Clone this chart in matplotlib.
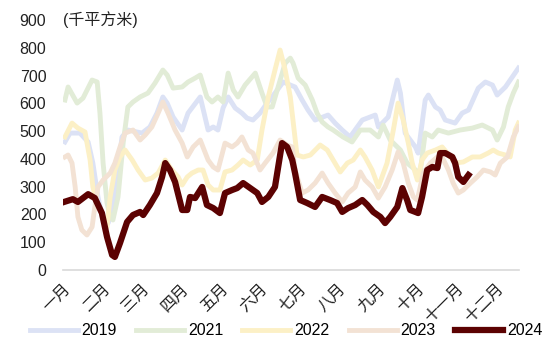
import matplotlib
matplotlib.use("Agg")
import matplotlib.pyplot as plt

plt.rcParams['font.family'] = ['Liberation Sans', 'Noto Sans CJK SC']

months = ['一月', '二月', '三月', '四月', '五月', '六月',
          '七月', '八月', '九月', '十月', '十一月', '十二月']

# x in months since Jan 1
x2019 = [0.05, 0.18, 0.43, 0.64, 0.76, 0.89, 1.02, 1.15, 1.27, 1.40,
         1.50, 1.65, 1.88, 2.01, 2.21, 2.39, 2.54, 2.65, 2.80, 3.03,
         3.18, 3.49, 3.69, 3.82, 3.94, 4.07, 4.20, 4.38, 4.55, 4.68,
         4.83, 5.01, 5.19, 5.39, 5.60, 5.78, 5.90, 6.08, 6.23, 6.41,
         6.74, 6.92, 7.10, 7.30, 7.61, 7.94, 8.02, 8.27, 8.50, 8.58,
         8.70, 8.96, 9.03, 9.21, 9.29, 9.47, 9.59, 9.72, 9.97, 10.15,
         10.31, 10.56, 10.74, 10.92, 11.04, 11.25, 11.58]
v2019 = [461, 493, 493, 461, 385, 263, 180, 169, 227, 360,
         479, 504, 497, 493, 515, 565, 623, 601, 551, 504,
         565, 623, 504, 515, 504, 583, 623, 583, 565, 547,
         540, 565, 601, 637, 677, 666, 659, 612, 576, 540,
         558, 529, 504, 479, 540, 558, 515, 551, 684, 637,
         493, 443, 421, 612, 630, 587, 576, 540, 529, 565,
         576, 655, 677, 666, 630, 659, 727]

x2021 = [0.05, 0.13, 0.36, 0.51, 0.74, 0.87, 0.94, 1.02, 1.12, 1.20,
         1.27, 1.40, 1.53, 1.65, 1.78, 1.96, 2.16, 2.34, 2.54, 2.65,
         2.80, 3.03, 3.18, 3.36, 3.49, 3.66, 3.79, 3.94, 4.07, 4.20,
         4.33, 4.45, 4.63, 4.89, 5.06, 5.19, 5.32, 5.47, 5.65, 5.78,
         5.85, 5.98, 6.16, 6.34, 6.46, 6.59, 6.74, 6.87, 7.12, 7.35,
         7.56, 7.81, 8.02, 8.14, 8.32, 8.58, 8.75, 8.88, 9.01, 9.08,
         9.21, 9.39, 9.54, 9.80, 10.10, 10.41, 10.66, 10.92, 11.04, 11.20,
         11.32, 11.45, 11.58]
v2021 = [612, 659, 601, 619, 684, 677, 565, 385, 241, 191,
         180, 263, 457, 587, 605, 623, 637, 673, 720, 702,
         655, 659, 677, 691, 702, 623, 605, 623, 605, 709,
         648, 623, 666, 709, 637, 587, 587, 659, 745, 763,
         745, 691, 666, 612, 565, 533, 515, 504, 479, 461,
         504, 504, 479, 522, 468, 432, 385, 370, 355, 349,
         493, 479, 504, 493, 504, 511, 522, 504, 468, 515,
         587, 637, 677]

x2022 = [0.05, 0.23, 0.38, 0.56, 0.69, 0.76, 0.87, 1.02, 1.12, 1.20,
         1.32, 1.45, 1.58, 1.76, 1.91, 2.09, 2.26, 2.42, 2.60, 2.77,
         2.93, 3.03, 3.16, 3.28, 3.44, 3.56, 3.69, 3.82, 3.99, 4.12,
         4.30, 4.45, 4.58, 4.76, 4.94, 5.06, 5.22, 5.39, 5.52, 5.65,
         5.78, 5.95, 6.11, 6.29, 6.54, 6.72, 6.87, 7.05, 7.23, 7.38,
         7.56, 7.68, 7.86, 8.02, 8.24, 8.40, 8.52, 8.65, 8.78, 8.88,
         9.01, 9.13, 9.26, 9.47, 9.64, 9.77, 9.97, 10.18, 10.41, 10.61,
         10.81, 10.94, 11.07, 11.25, 11.37, 11.50, 11.58]
v2022 = [479, 529, 511, 497, 396, 299, 241, 191, 155, 263,
         360, 407, 432, 396, 360, 324, 331, 349, 396, 360,
         335, 306, 335, 349, 360, 360, 306, 288, 288, 353,
         360, 378, 396, 378, 396, 504, 623, 720, 792, 720,
         623, 414, 407, 414, 450, 432, 396, 353, 385, 396,
         432, 407, 360, 299, 385, 504, 601, 540, 457, 385,
         324, 396, 421, 432, 443, 421, 385, 389, 407, 407,
         421, 432, 421, 414, 407, 504, 529]

x2023 = [0.05, 0.13, 0.23, 0.31, 0.38, 0.48, 0.61, 0.74, 0.81, 0.89,
         1.02, 1.20, 1.32, 1.45, 1.58, 1.78, 1.96, 2.09, 2.26, 2.42,
         2.54, 2.67, 2.85, 3.03, 3.16, 3.31, 3.49, 3.69, 3.82, 3.94,
         4.12, 4.30, 4.43, 4.55, 4.71, 4.83, 5.01, 5.14, 5.34, 5.52,
         5.70, 5.83, 5.90, 6.08, 6.23, 6.41, 6.59, 6.74, 6.92, 7.10,
         7.25, 7.43, 7.56, 7.68, 7.86, 8.02, 8.19, 8.37, 8.52, 8.65,
         8.78, 8.91, 9.01, 9.16, 9.34, 9.52, 9.64, 9.80, 9.92, 10.05,
         10.18, 10.36, 10.53, 10.69, 10.87, 10.99, 11.12, 11.30, 11.45, 11.58]
v2023 = [407, 414, 385, 299, 191, 144, 126, 155, 227, 299,
         324, 349, 385, 443, 493, 504, 468, 486, 515, 565,
         605, 565, 504, 457, 407, 443, 468, 396, 371, 360,
         457, 443, 457, 479, 432, 421, 360, 385, 421, 468,
         450, 443, 360, 277, 288, 313, 349, 313, 277, 245,
         277, 299, 353, 324, 299, 259, 299, 360, 425, 385,
         313, 263, 252, 349, 385, 407, 407, 360, 313, 277,
         288, 313, 335, 360, 353, 342, 385, 407, 479, 515]

x2024 = [0.05, 0.25, 0.38, 0.64, 0.81, 0.99, 1.12, 1.25, 1.32, 1.45,
         1.63, 1.78, 1.96, 2.04, 2.21, 2.39, 2.52, 2.60, 2.72, 2.85,
         3.03, 3.16, 3.23, 3.36, 3.54, 3.66, 3.82, 3.99, 4.12, 4.30,
         4.43, 4.58, 4.76, 4.94, 5.06, 5.22, 5.39, 5.57, 5.70, 5.83,
         5.90, 6.03, 6.21, 6.41, 6.59, 6.79, 6.97, 7.10, 7.25, 7.43,
         7.61, 7.74, 7.89, 8.07, 8.19, 8.32, 8.50, 8.63, 8.75, 8.83,
         8.96, 9.03, 9.13, 9.26, 9.39, 9.52, 9.59, 9.72, 9.90, 9.97,
         10.05, 10.18, 10.31]
v2024 = [246, 255, 245, 273, 259, 205, 119, 54, 47, 97,
         173, 198, 209, 198, 234, 277, 335, 385, 360, 317,
         216, 216, 263, 259, 299, 234, 223, 205, 277, 288,
         295, 313, 295, 277, 245, 263, 299, 457, 443, 396,
         349, 252, 241, 227, 263, 252, 241, 209, 223, 234,
         252, 234, 209, 191, 169, 191, 227, 295, 252, 216,
         209, 205, 263, 360, 371, 367, 421, 421, 407, 385,
         335, 317, 342]

fig = plt.figure(figsize=(5.5, 3.52), dpi=100)
ax = fig.add_axes([0.1145, 0.233, 0.8295, 0.71])

ax.plot(x2019, v2019, color='#dce2f5', lw=3.5, label='2019', solid_joinstyle='round')
ax.plot(x2021, v2021, color='#e2ecd7', lw=3.5, label='2021', solid_joinstyle='round')
ax.plot(x2022, v2022, color='#fcf0c6', lw=3.5, label='2022', solid_joinstyle='round')
ax.plot(x2023, v2023, color='#f3e2d4', lw=3.5, label='2023', solid_joinstyle='round')
ax.plot(x2024, v2024, color='#5c0202', lw=4.5, label='2024', solid_joinstyle='round')

ax.set_xlim(0, 11.6)
ax.set_ylim(0, 900)
ax.set_yticks(range(0, 901, 100))
ax.set_xticks(range(12))
ax.set_xticklabels(months, rotation=45, ha='right', va='top', rotation_mode='anchor')
ax.tick_params(axis='both', length=0, labelsize=11.5, colors='#222222')
ax.tick_params(axis='y', pad=12)
ax.tick_params(axis='x', pad=8)

for s in ['top', 'right', 'left']:
    ax.spines[s].set_visible(False)
ax.spines['bottom'].set_color('#d9d9d9')
ax.spines['bottom'].set_linewidth(1.2)

ax.text(0, 900, '(千平方米)', ha='left', va='center', fontsize=11.5, color='#222222')

fig.legend(loc='center', bbox_to_anchor=(0.52, 0.06), ncol=5, frameon=False,
           fontsize=11.5, handlelength=3.0, columnspacing=1.2, handletextpad=0.25)

fig.savefig('out.png', dpi=100)
